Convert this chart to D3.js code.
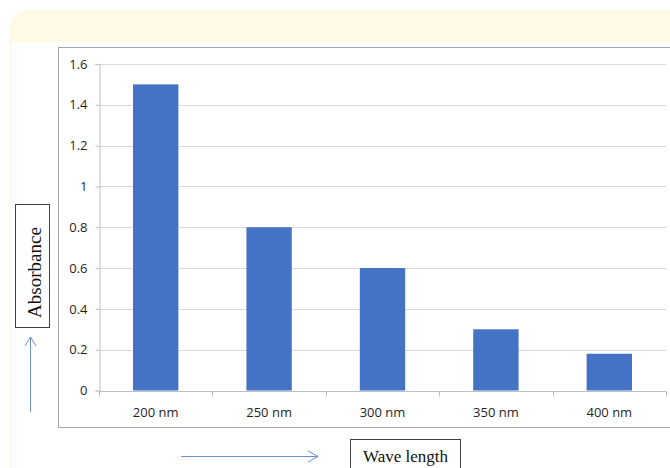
<!DOCTYPE html>
<html>
<head>
<meta charset="utf-8">
<script src="https://cdn.jsdelivr.net/npm/d3@7"></script>
<style>
  html, body { margin: 0; padding: 0; background: #ffffff; }
  svg { display: block; }
</style>
</head>
<body>
<svg id="chart" width="670" height="468"></svg>
<script>
// Absorbance readings by wavelength
const categories = ["200 nm", "250 nm", "300 nm", "350 nm", "400 nm"];
const absorbance = [1.5, 0.8, 0.6, 0.3, 0.18];
const yTicks = [0, 0.2, 0.4, 0.6, 0.8, 1, 1.2, 1.4, 1.6];

const svg = d3.select("#chart");

// Cream page frame with rounded top-left corner
svg.append("path")
  .attr("d", "M10,468 L10,32 Q10,10 32,10 L670,10 L670,42 L12,42 L12,468 Z")
  .attr("fill", "#fefae6");

// Chart area border
svg.append("rect")
  .attr("x", 58.5).attr("y", 47.5)
  .attr("width", 640).attr("height", 380)
  .attr("fill", "#ffffff")
  .attr("stroke", "#a6a6a6").attr("stroke-width", 1);

const plot = { left: 99, right: 666, top: 64, bottom: 390.5 };

const x = d3.scaleBand()
  .domain(categories)
  .range([plot.left, plot.right])
  .paddingInner(0.6).paddingOuter(0.3);

const xTickScale = d3.scaleBand().domain(categories).range([plot.left, plot.right]);

const y = d3.scaleLinear().domain([0, 1.6]).range([plot.bottom, plot.top]);

// Horizontal gridlines
svg.append("g")
  .selectAll("line")
  .data(yTicks.filter(d => d > 0))
  .join("line")
  .attr("x1", plot.left).attr("x2", plot.right)
  .attr("y1", d => Math.round(y(d)) + 0.5).attr("y2", d => Math.round(y(d)) + 0.5)
  .attr("stroke", "#d9d9d9").attr("stroke-width", 1);

// Bars
svg.append("g")
  .selectAll("rect")
  .data(categories.map((c, i) => ({ c, v: absorbance[i] })))
  .join("rect")
  .attr("x", d => x(d.c))
  .attr("width", x.bandwidth())
  .attr("y", d => y(d.v))
  .attr("height", d => y(0) - y(d.v))
  .attr("fill", "#4472c4");

const font = "'Open Sans', 'Liberation Sans', sans-serif";

// Y axis
const yAxis = svg.append("g")
  .attr("transform", `translate(${plot.left + 0.5},0)`)
  .call(d3.axisLeft(y).tickValues(yTicks).tickSize(4).tickPadding(8)
    .tickFormat(d => d3.format("")(d)));
yAxis.select(".domain").attr("stroke", "#bfbfbf");
yAxis.selectAll(".tick line").attr("stroke", "#bfbfbf");
yAxis.selectAll(".tick text")
  .attr("fill", "#1f1f1f").attr("font-family", font).attr("font-size", 13);

// X axis with tick marks at category boundaries
const xAxisG = svg.append("g")
  .attr("transform", `translate(0,${Math.round(plot.bottom) + 0.5})`);
xAxisG.append("line")
  .attr("x1", plot.left).attr("x2", plot.right)
  .attr("stroke", "#bfbfbf");
const boundaries = categories.map(c => xTickScale(c)).concat([plot.right]);
xAxisG.selectAll("line.tick")
  .data(boundaries)
  .join("line")
  .attr("class", "tick")
  .attr("x1", d => Math.round(d) + 0.5).attr("x2", d => Math.round(d) + 0.5)
  .attr("y1", 0).attr("y2", 5)
  .attr("stroke", "#bfbfbf");
xAxisG.selectAll("text")
  .data(categories)
  .join("text")
  .attr("x", d => xTickScale(d) + xTickScale.bandwidth() / 2)
  .attr("y", 25)
  .attr("text-anchor", "middle")
  .attr("fill", "#1f1f1f").attr("font-family", font).attr("font-size", 13)
  .text(d => d);

const serif = "'Liberation Serif', 'DejaVu Serif', serif";

// Y axis title box
svg.append("rect")
  .attr("x", 15.5).attr("y", 204.5).attr("width", 34).attr("height", 123)
  .attr("fill", "#ffffff").attr("stroke", "#404040").attr("stroke-width", 1);
svg.append("text")
  .attr("transform", "translate(41,272.5) rotate(-90)")
  .attr("text-anchor", "middle")
  .attr("font-family", serif).attr("font-size", 19).attr("fill", "#111")
  .text("Absorbance");

// X axis title box
svg.append("rect")
  .attr("x", 350.5).attr("y", 439.5).attr("width", 110).attr("height", 40)
  .attr("fill", "#ffffff").attr("stroke", "#404040").attr("stroke-width", 1);
svg.append("text")
  .attr("x", 405.5).attr("y", 462)
  .attr("text-anchor", "middle")
  .attr("font-family", serif).attr("font-size", 17).attr("fill", "#111")
  .text("Wave length");

// Direction arrows
const arrowColor = "#6a8fd8";
svg.append("line").attr("x1", 30.5).attr("x2", 30.5).attr("y1", 412).attr("y2", 337)
  .attr("stroke", arrowColor).attr("stroke-width", 1);
svg.append("path").attr("d", "M25,346 L30.5,337 L36,346")
  .attr("fill", "none").attr("stroke", arrowColor).attr("stroke-width", 1);
svg.append("line").attr("x1", 181).attr("x2", 318).attr("y1", 456.5).attr("y2", 456.5)
  .attr("stroke", arrowColor).attr("stroke-width", 1);
svg.append("path").attr("d", "M308,451 L318,456.5 L308,462")
  .attr("fill", "none").attr("stroke", arrowColor).attr("stroke-width", 1);
</script>
</body>
</html>
